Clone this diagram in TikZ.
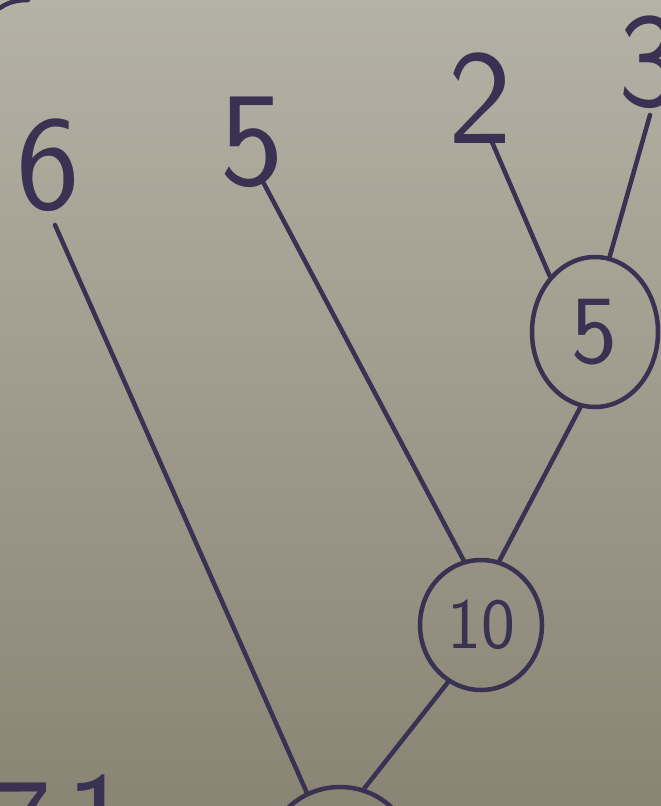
\documentclass[tikz,border=0pt]{standalone}
\usetikzlibrary{shapes.geometric}
\definecolor{ink}{RGB}{58,50,82}
\definecolor{bgtop}{RGB}{180,178,165}
\definecolor{bgbot}{RGB}{138,132,116}
\tikzset{
  digit/.style={text=ink, inner sep=0pt, font=\sffamily\fontsize{135}{135}\selectfont},
  smalldigit/.style={text=ink, inner sep=0pt, font=\sffamily\fontsize{98}{98}\selectfont},
  sumnode/.style={draw=ink, line width=4.5pt, ellipse, inner sep=0pt},
  edge/.style={draw=ink, line width=4.5pt, line cap=round}
}
\begin{document}
\begin{tikzpicture}[x=1pt,y=-1pt]
\useasboundingbox (0,0) rectangle (661,806);
\clip (0,0) rectangle (661,806);
\shade[top color=bgtop, bottom color=bgbot] (0,0) rectangle (661,806);
% leaf labels
\node[digit] (l6) at (48,165) {6};
\node[digit] (l5) at (252,142) {5};
\node[digit] (l2) at (480,98) {2};
\node[digit] (l3) at (650,62) {3};
% partial bottom labels
\node[digit] (l7) at (20,828) {7};
\node[digit] (l1) at (98,820) {1};
% internal nodes
\node[sumnode, minimum width=126, minimum height=150, smalldigit] (c5) at (595,332) {5};
\node[sumnode, minimum width=122, minimum height=130, font=\sffamily\fontsize{72}{72}\selectfont, text=ink] (c10) at (481,625) {10};
\node[sumnode, minimum width=144, minimum height=136] (root) at (340,855) {};
% free ends below the labels
\coordinate (t6) at (55,225);
\coordinate (t5) at (262,180);
\coordinate (t2) at (492,142);
\coordinate (t3) at (650,115);
% connectors
\draw[edge] (t6) -- (root.118);
\draw[edge] (t5) -- (c10.105);
\draw[edge] (t2) -- (c5.129);
\draw[edge] (t3) -- (c5.79);
\draw[edge] (c5.-101) -- (c10.74);
\draw[edge] (c10.-120) -- (root.70);
% corner mark
\draw[edge] (0,8) .. controls (8,2) and (18,0) .. (28,0);
\end{tikzpicture}
\end{document}
